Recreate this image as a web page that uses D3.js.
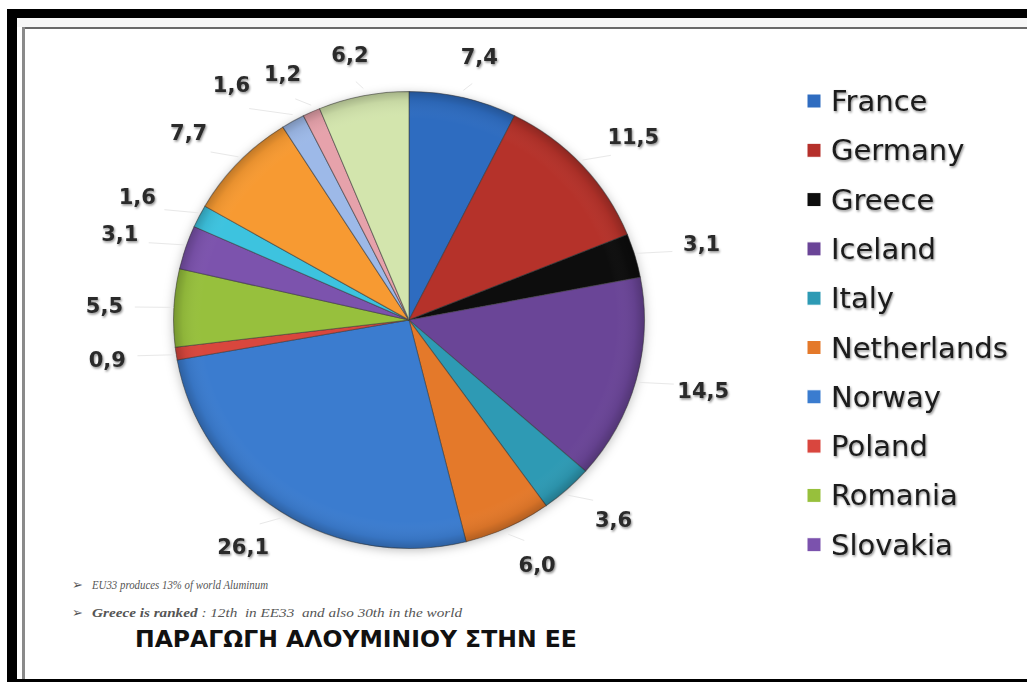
<!DOCTYPE html>
<html>
<head>
<meta charset="utf-8">
<script src="https://cdn.jsdelivr.net/npm/d3@7"></script>
<style>
  html, body { margin: 0; padding: 0; background: #fff; }
  svg { display: block; }
</style>
</head>
<body>
<svg id="chart" width="1027" height="682"></svg>
<script>
// values, clockwise from 12 o'clock
var values = [7.4, 11.5, 3.1, 14.5, 3.6, 6.0, 26.1, 0.9, 5.5, 3.1, 1.6, 7.7, 1.6, 1.2, 6.2];
var labels = ['7,4', '11,5', '3,1', '14,5', '3,6', '6,0', '26,1', '0,9', '5,5', '3,1', '1,6', '7,7', '1,6', '1,2', '6,2'];
// only the first ten slices are named in the legend
var countries = ['France', 'Germany', 'Greece', 'Iceland', 'Italy', 'Netherlands', 'Norway', 'Poland', 'Romania', 'Slovakia'];
var colors = ['#2f6cc0', '#b5302b', '#0d0d0d', '#6a4497', '#2d9ab4', '#e4792a', '#3a7ccf', '#d9463e', '#97c03c', '#7b52ad',
              '#3cc3df', '#f79a33', '#9db9e8', '#e6a2ab', '#d3e5ad'];
var notes = [
    {bold: '', rest: 'EU33 produces 13% of world Aluminum'},
    {bold: 'Greece is ranked', rest: ' : 12th \u00a0in EE33 \u00a0and also 30th in the world'}
];
var title = 'ΠΑΡΑΓΩΓΗ ΑΛΟΥΜΙΝΙΟΥ ΣΤΗΝ ΕΕ';

var svg = d3.select('#chart');

var defs = svg.append('defs');
var shadow = defs.append('filter').attr('id', 'txtShadow')
    .attr('x', '-20%').attr('y', '-30%').attr('width', '140%').attr('height', '160%');
shadow.append('feDropShadow').attr('dx', 1).attr('dy', 1.5).attr('stdDeviation', 1.2)
    .attr('flood-color', '#000').attr('flood-opacity', 0.45);

var pieShadow = defs.append('filter').attr('id', 'pieShadow')
    .attr('x', '-10%').attr('y', '-10%').attr('width', '120%').attr('height', '120%');
pieShadow.append('feDropShadow').attr('dx', 0).attr('dy', 2).attr('stdDeviation', 5)
    .attr('flood-color', '#000').attr('flood-opacity', 0.25);

var shade = defs.append('radialGradient').attr('id', 'shade')
    .attr('cx', '50%').attr('cy', '50%').attr('r', '50%');
shade.append('stop').attr('offset', '0%').attr('stop-color', '#fff').attr('stop-opacity', 0.0);
shade.append('stop').attr('offset', '88%').attr('stop-color', '#fff').attr('stop-opacity', 0.0);
shade.append('stop').attr('offset', '96%').attr('stop-color', '#000').attr('stop-opacity', 0.06);
shade.append('stop').attr('offset', '100%').attr('stop-color', '#000').attr('stop-opacity', 0.22);

// frame
svg.append('rect').attr('x', 7).attr('y', 9).attr('width', 1020).attr('height', 9).attr('fill', '#000');
svg.append('rect').attr('x', 7).attr('y', 9).attr('width', 10).attr('height', 673).attr('fill', '#000');
svg.append('rect').attr('x', 7).attr('y', 679).attr('width', 1020).attr('height', 3).attr('fill', '#000');
svg.append('rect').attr('x', 17).attr('y', 18).attr('width', 1010).attr('height', 9).attr('fill', '#f7f7f7');
svg.append('rect').attr('x', 22).attr('y', 27).attr('width', 1005).attr('height', 2).attr('fill', '#6a6a6a');
svg.append('rect').attr('x', 22).attr('y', 27).attr('width', 3).attr('height', 652).attr('fill', '#8a8a8a');

// pie
var cx = 409, cy = 320, r = 232;
var pie = d3.pie().sort(null).startAngle(0).endAngle(2 * Math.PI);
var arcs = pie(values);
var arc = d3.arc().innerRadius(0).outerRadius(r);

var g = svg.append('g').attr('transform', 'translate(' + cx + ',' + cy + ') scale(1.015,0.985)');

var slices = g.append('g').attr('filter', 'url(#pieShadow)');
slices.selectAll('path')
    .data(arcs)
    .enter()
    .append('path')
    .attr('d', arc)
    .attr('fill', function(d, i) { return colors[i]; })
    .attr('stroke', '#3a3a3a')
    .attr('stroke-opacity', 0.55)
    .attr('stroke-width', 1);

g.append('circle').attr('r', r).attr('fill', 'url(#shade)').attr('pointer-events', 'none');

// label positions: on an ellipse outside the pie, kept inside the plot and pushed apart
var lrx = 305, lry = 270, topLimit = 52;
var pos = arcs.map(function(d) {
    var a = (d.startAngle + d.endAngle) / 2;
    return {a: a, x: cx + lrx * Math.sin(a), y: Math.max(topLimit, cy - lry * Math.cos(a))};
});

var lab = svg.append('g');
var texts = lab.selectAll('text')
    .data(arcs)
    .enter()
    .append('text')
    .attr('text-anchor', 'middle')
    .attr('dominant-baseline', 'central')
    .attr('font-family', 'DejaVu Sans, Verdana, sans-serif')
    .attr('font-weight', 'bold')
    .attr('font-size', 21)
    .attr('fill', '#2b2b2b')
    .attr('filter', 'url(#txtShadow)')
    .text(function(d, i) { return labels[i]; });

var widths = [];
texts.each(function() { widths.push(this.getComputedTextLength()); });

// left half, from the top going counter-clockwise: shift left while overlapping
var order = d3.range(values.length)
    .filter(function(i) { return pos[i].a > Math.PI; })
    .sort(function(a, b) { return pos[b].a - pos[a].a; });
var placed = [];
order.forEach(function(i) {
    var p = pos[i], moved = true;
    while (moved) {
        moved = false;
        placed.forEach(function(j) {
            var q = pos[j];
            var gap = (widths[i] + widths[j]) / 2 + 14;
            if (Math.abs(p.x - q.x) < gap && Math.abs(p.y - q.y) < 26) {
                p.x = q.x - gap;
                moved = true;
            }
        });
    }
    placed.push(i);
});

texts.attr('x', function(d, i) { return pos[i].x; })
     .attr('y', function(d, i) { return pos[i].y; });

// faint leader lines from the pie edge towards each label
lab.selectAll('line')
    .data(arcs)
    .enter()
    .insert('line', 'text')
    .attr('x1', function(d) { return cx + (r + 4) * Math.sin(pos[d.index].a); })
    .attr('y1', function(d) { return cy - (r + 4) * Math.cos(pos[d.index].a); })
    .attr('x2', function(d) {
        var p = pos[d.index];
        return cx + (p.x - cx) * 0.9;
    })
    .attr('y2', function(d) {
        var p = pos[d.index];
        return cy + (p.y - cy) * 0.9;
    })
    .attr('stroke', '#e8e8e8')
    .attr('stroke-width', 1);

// legend
var legend = svg.append('g').attr('transform', 'translate(807,101)');
var rows = legend.selectAll('g')
    .data(countries)
    .enter()
    .append('g')
    .attr('transform', function(d, i) { return 'translate(0,' + (i * 49.3) + ')'; });

rows.append('rect')
    .attr('x', 0).attr('y', -7)
    .attr('width', 14).attr('height', 14)
    .attr('fill', function(d, i) { return colors[i]; })
    .attr('stroke', '#fff').attr('stroke-width', 1);

rows.append('text')
    .attr('x', 24)
    .attr('y', 0)
    .attr('dominant-baseline', 'central')
    .attr('font-family', 'DejaVu Sans, Verdana, sans-serif')
    .attr('font-size', 29)
    .attr('fill', '#1a1a1a')
    .attr('filter', 'url(#txtShadow)')
    .text(function(d) { return d; });

// notes
var noteWidths = [176, 370];
var noteG = svg.append('g');
notes.forEach(function(n, i) {
    var y = 589 + i * 28;
    noteG.append('text')
        .attr('x', 72).attr('y', y)
        .attr('font-family', 'DejaVu Sans, sans-serif')
        .attr('font-size', 13)
        .attr('fill', '#555')
        .text('\u27a2');
    var t = noteG.append('text')
        .attr('x', 92).attr('y', y)
        .attr('font-family', 'Liberation Serif, serif')
        .attr('font-style', 'italic')
        .attr('font-size', 13)
        .attr('fill', '#555')
        .attr('textLength', noteWidths[i])
        .attr('lengthAdjust', 'spacingAndGlyphs');
    if (n.bold) t.append('tspan').attr('font-weight', 'bold').text(n.bold);
    t.append('tspan').text(n.rest);
});

svg.append('text')
    .attr('x', 135).attr('y', 647)
    .attr('font-family', 'DejaVu Sans, Verdana, sans-serif')
    .attr('font-weight', 'bold')
    .attr('font-size', 23.5)
    .attr('fill', '#111')
    .text(title);
</script>
</body>
</html>
